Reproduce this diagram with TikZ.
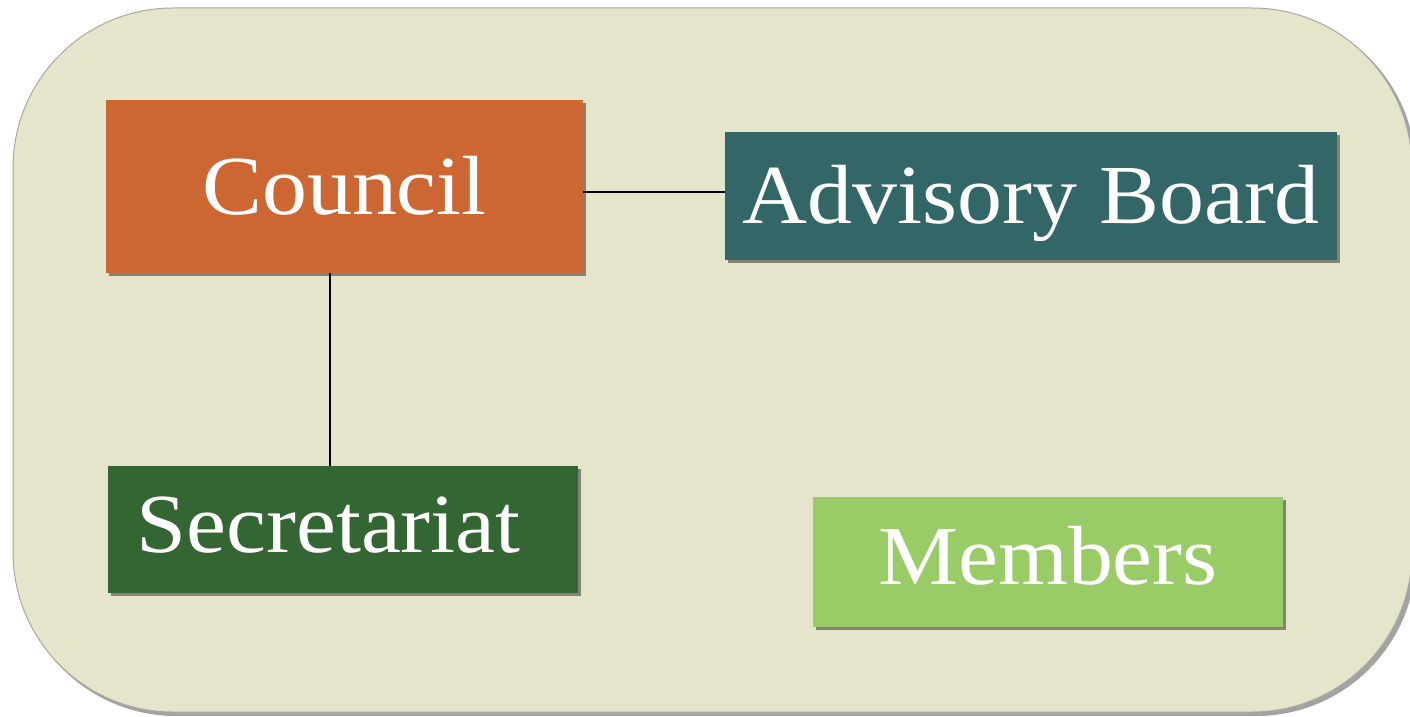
\documentclass[tikz,border=0pt]{standalone}
\usepackage{fontspec}
\newfontfamily\boxfont{Liberation Serif}[FakeStretch=1.07]
\usetikzlibrary{shadows,calc}
\definecolor{bgfill}{HTML}{E5E5CC}
\definecolor{bgline}{HTML}{A8A8A0}
\definecolor{councilc}{HTML}{CC6633}
\definecolor{advisoryc}{HTML}{336666}
\definecolor{secretc}{HTML}{336633}
\definecolor{memberc}{HTML}{99CC66}
\begin{document}
\begin{tikzpicture}[x=1pt,y=-1pt,
  orgbox/.style={rectangle, inner sep=0pt, text=white,
    font=\boxfont\fontsize{84}{90}\selectfont,
    text height=55.6pt, text depth=0pt,
    drop shadow={shadow xshift=3pt, shadow yshift=-3pt, opacity=0.55, fill=black!80}},
  link/.style={draw=black, line width=2.2pt}]
\useasboundingbox (0,0) rectangle (1410,717);
\fill[black!60, opacity=0.6, rounded corners=160pt] (16,11) rectangle (1416,716);
\filldraw[fill=bgfill, draw=bgline, line width=1pt, rounded corners=160pt] (13,8) rectangle (1412,712);
\node[orgbox, fill=councilc, minimum width=477pt, minimum height=173pt] (council) at (344.5,186.5) {Council};
\node[orgbox, fill=advisoryc, minimum width=612pt, minimum height=128pt] (advisory) at (1031,196) {Advisory Board};
\node[orgbox, fill=secretc, minimum width=470pt, minimum height=127pt, text depth=10pt] (secretariat) at (343,529.5) {Secretariat\kern29pt};
\node[orgbox, fill=memberc, minimum width=470pt, minimum height=130pt, text depth=10pt] (members) at (1048,562) {Members};
\draw[link] ([yshift=-5.5pt]council.east) -- ([yshift=-5.5pt]council.east -| advisory.west);
\draw[link] ([xshift=-14.5pt]council.south) -- ([xshift=-14.5pt]council.south |- secretariat.north);
\end{tikzpicture}
\end{document}
